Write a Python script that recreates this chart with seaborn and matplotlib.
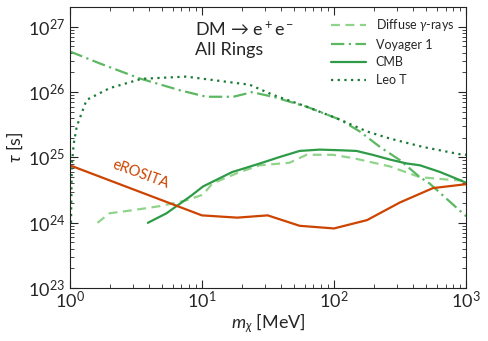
import numpy as np
import pandas as pd
import matplotlib
matplotlib.use("Agg")
import matplotlib.pyplot as plt
import seaborn as sns

# limits
m_erosita = [1.0, 10.0, 18.5, 31.5, 55, 100, 178, 316, 562, 1000]
tau_erosita = [7.6e24, 1.3e24, 1.2e24, 1.3e24, 0.9e24, 0.82e24, 1.1e24, 2.05e24, 3.4e24, 3.9e24]

m_cmb = [3.9, 5.4, 8.3, 10.2, 17, 19.4, 27.5, 39, 55, 78, 112, 148, 199, 265, 355, 447, 635, 900, 1000]
tau_cmb = [1.0e24, 1.4e24, 2.6e24, 3.6e24, 6.0e24, 6.5e24, 8.1e24, 1.02e25, 1.26e25, 1.32e25,
           1.29e25, 1.26e25, 1.09e25, 9.3e24, 8.1e24, 7.6e24, 6.0e24, 4.5e24, 4.1e24]

m_diffuse = [1.62, 2.0, 3.0, 4.8, 7.6, 10.2, 12, 19.4, 27.5, 46, 62, 98, 139, 265, 447, 715, 1000]
tau_diffuse = [1.0e24, 1.4e24, 1.56e24, 1.8e24, 2.2e24, 2.7e24, 4.0e24, 6.0e24, 7.6e24, 8.3e24,
               1.1e25, 1.1e25, 9.8e24, 7.3e24, 5.0e24, 4.6e24, 4.4e24]

m_voyager = [1.0, 1.69, 3.39, 6.8, 10.8, 17.3, 24, 34.5, 62, 111, 157, 223, 316, 447, 530, 1000]
tau_voyager = [4.2e26, 2.75e26, 1.62e26, 1.07e26, 8.5e25, 8.5e25, 1.0e26, 8.5e25, 6.0e25, 3.8e25,
               2.5e25, 1.45e25, 9.1e24, 5.0e24, 4.0e24, 1.26e24]

m_leot = [1.022, 1.035, 1.07, 1.13, 1.34, 2.0, 3.5, 7.6, 17.2, 23, 34.5, 62, 111, 178, 265, 472, 900, 1000]
tau_leot = [1.0e24, 7.6e24, 1.6e25, 3.0e25, 7.6e25, 1.15e26, 1.6e26, 1.73e26, 1.4e26, 1.3e26,
            9.1e25, 6.0e25, 3.8e25, 2.5e25, 1.95e25, 1.45e25, 1.12e25, 1.1e25]

sns.set_style("ticks")
plt.rcParams['font.family'] = ['Lato', 'DejaVu Sans']
plt.rcParams['mathtext.fontset'] = 'custom'
plt.rcParams['mathtext.rm'] = 'Lato'
plt.rcParams['mathtext.it'] = 'Lato:italic'
plt.rcParams['mathtext.bf'] = 'Lato:bold'

fig = plt.figure(figsize=(4.88, 3.41), dpi=100)
ax = fig.add_axes([0.143, 0.155, 0.812, 0.824])

lw = 1.6
sns.lineplot(x=m_diffuse, y=tau_diffuse, ax=ax, color="#8fd48a", lw=lw, ls=(0, (4, 2.5)),
             label="Diffuse $\\gamma$-rays")
sns.lineplot(x=m_voyager, y=tau_voyager, ax=ax, color="#5cb862", lw=lw, ls=(0, (6, 2, 1, 2)),
             label="Voyager 1")
sns.lineplot(x=m_cmb, y=tau_cmb, ax=ax, color="#2e9b48", lw=lw, ls="-", label="CMB")
sns.lineplot(x=m_leot, y=tau_leot, ax=ax, color="#1a7a36", lw=lw, ls=(0, (1, 2)), label="Leo T")
sns.lineplot(x=m_erosita, y=tau_erosita, ax=ax, color="#cc4400", lw=lw, ls="-", legend=False)

ax.set_xscale("log")
ax.set_yscale("log")
ax.set_xlim(1, 1000)
ax.set_ylim(1e23, 2e27)

ax.tick_params(which="both", direction="in", top=True, right=True, labelsize=13)
ax.tick_params(which="major", length=6, width=0.8)
ax.tick_params(which="minor", length=3, width=0.6)
ax.tick_params(axis="x", which="both", pad=1.5)
for sp in ax.spines.values():
    sp.set_color("#222222")

ax.set_xlabel("$m_\\chi$ [MeV]", fontsize=13, labelpad=0)
ax.set_ylabel("$\\tau$ [s]", fontsize=13, labelpad=2)

ax.text(0.315, 0.955, "DM → e$^+$e$^-$\nAll Rings", transform=ax.transAxes,
        fontsize=13, va="top", ha="left", linespacing=1.3)
ax.text(3.45, 5.5e24, "eROSITA", color="#cc4400", fontsize=10.5, rotation=-20,
        ha="center", va="center")

leg = ax.legend(loc="upper right", frameon=False, fontsize=9, handlelength=2.8,
                labelspacing=0.45, borderaxespad=0.4, bbox_to_anchor=(0.995, 1.0))

fig.savefig("out.png", dpi=100)
